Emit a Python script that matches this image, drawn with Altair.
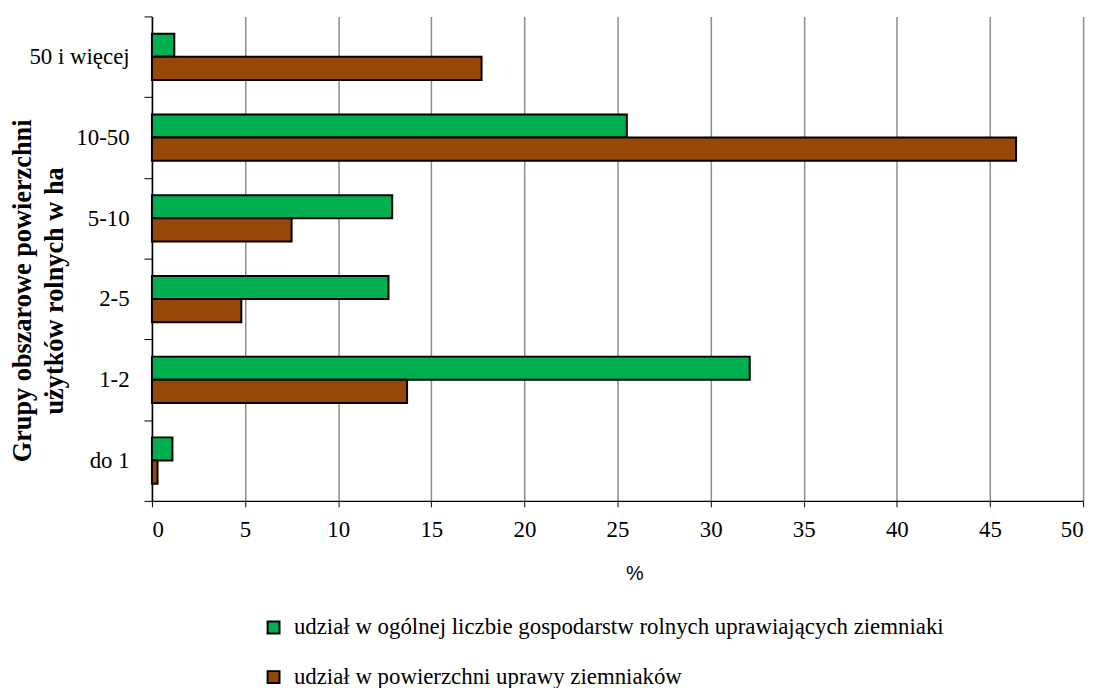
import altair as alt
import pandas as pd

categories = ["50 i więcej", "10-50", "5-10", "2-5", "1-2", "do 1"]
series_names = [
    "udział w ogólnej liczbie gospodarstw rolnych uprawiających ziemniaki",
    "udział w powierzchni uprawy ziemniaków",
]
share_farms = [1.2, 25.5, 12.9, 12.7, 32.1, 1.1]
share_area = [17.7, 46.4, 7.5, 4.8, 13.7, 0.3]
x_ticks = [0, 5, 10, 15, 20, 25, 30, 35, 40, 45, 50]
colors = ["#00B050", "#974806"]

rows = []
for c, a, b in zip(categories, share_farms, share_area):
    rows.append({"grupa": c, "seria": series_names[0], "wartosc": a, "kol": 0})
    rows.append({"grupa": c, "seria": series_names[1], "wartosc": b, "kol": 1})
df = pd.DataFrame(rows)

serif = "Liberation Serif"

chart = alt.Chart(df).mark_bar(stroke="black", strokeWidth=2).encode(
    x=alt.X(
        "wartosc:Q",
        scale=alt.Scale(domain=[0, 50], nice=False, zero=True),
        axis=alt.Axis(
            values=x_ticks,
            title="%",
            titleFont="Liberation Sans",
            titleFontSize=20,
            titleFontWeight="normal",
            titleColor="black",
            titleX=486,
            titleY=73,
            titleBaseline="middle",
            labelFont=serif,
            labelFontSize=23,
            labelColor="black",
            labelPadding=12,
            tickSize=6,
            tickColor="black",
            domainColor="black",
            domainWidth=1.5,
            grid=True,
            gridColor="#8c8c8c",
            gridWidth=1.5,
        ),
    ),
    y=alt.Y(
        "grupa:N",
        sort=categories,
        scale=alt.Scale(paddingInner=0, paddingOuter=0),
        axis=alt.Axis(
            title=["Grupy obszarowe powierzchni", "użytków rolnych  w ha"],
            titleFont=serif,
            titleFontSize=26.5,
            titleFontWeight="bold",
            titleColor="black",
            titleAngle=270,
            titleX=-130,
            titleY=276,
            titleAlign="center",
            titleBaseline="middle",
            titleLineHeight=32,
            labelFont=serif,
            labelFontSize=23,
            labelColor="black",
            labelPadding=15,
            tickSize=8,
            tickColor="black",
            tickBand="extent",
            bandPosition=0,
            domainColor="black",
            domainWidth=1.5,
            grid=False,
        ),
    ),
    yOffset=alt.YOffset(
        "kol:O",
        scale=alt.Scale(paddingInner=0, paddingOuter=0.745),
    ),
    fill=alt.Fill(
        "seria:N",
        sort=series_names,
        scale=alt.Scale(domain=series_names, range=colors),
        legend=alt.Legend(
            title=None,
            orient="none",
            legendX=111,
            legendY=604,
            direction="vertical",
            symbolType="square",
            symbolSize=144,
            symbolStrokeColor="black",
            symbolStrokeWidth=2,
            labelFont=serif,
            labelFontSize=23,
            labelColor="black",
            labelLimit=0,
            labelOffset=9,
            rowPadding=26,
        ),
    ),
).properties(
    width=938,
    height=488,
    autosize=alt.AutoSizeParams(type="none"),
    padding={"left": 145, "top": 6, "right": 14, "bottom": 186},
).configure_view(strokeWidth=0)

chart.save("out.html", embed_options={"renderer": "svg", "actions": False})
